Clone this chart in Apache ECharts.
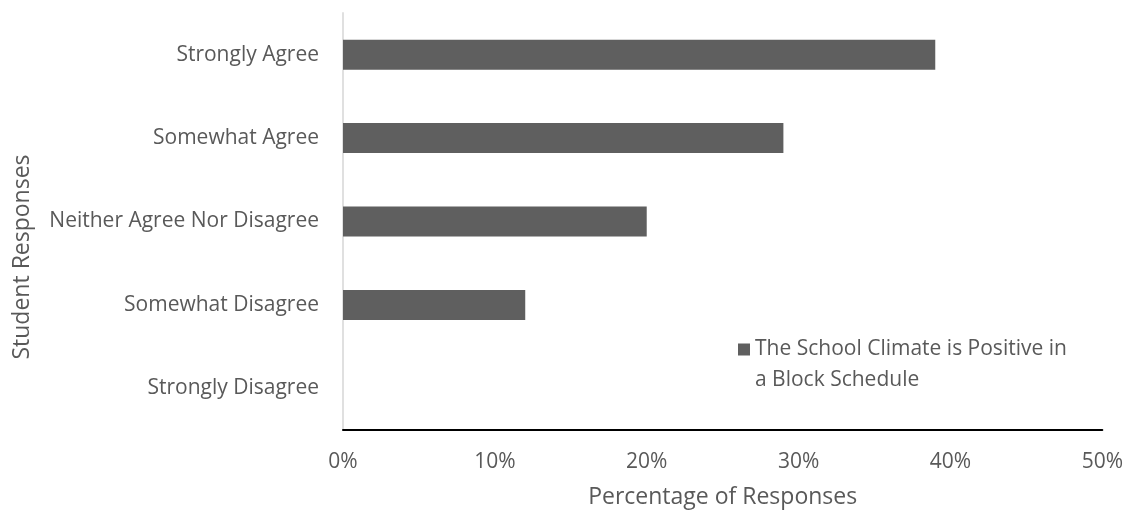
<!DOCTYPE html>
<html>
<head>
<meta charset="utf-8">
<script src="https://cdn.jsdelivr.net/npm/echarts@6/dist/echarts.min.js"></script>
<style>
  html, body { margin: 0; padding: 0; background: #fff; width: 100%; height: 100%; overflow: hidden; }
  #chart { width: 100vw; height: 100vh; }
</style>
</head>
<body>
<div id="chart"></div>
<script>
// data
const categories = ['Strongly Agree', 'Somewhat Agree', 'Neither Agree Nor Disagree', 'Somewhat Disagree', 'Strongly Disagree'];
const climateValues = [39, 29, 20, 12, 0];
const seriesName = 'The School Climate is Positive in\na Block Schedule';
const xTicks = [0, 10, 20, 30, 40, 50];

const textColor = '#595959';
const font = 'Open Sans';

const myChart = echarts.init(document.getElementById('chart'));
const option = {
  animation: false,
  textStyle: { fontFamily: font },
  grid: { left: 343, right: 23, top: 13, bottom: 77, containLabel: false },
  legend: {
    left: 738,
    top: 303,
    padding: 0,
    itemWidth: 12,
    itemHeight: 12,
    itemGap: 6,
    icon: 'rect',
    data: [seriesName],
    // empty first line so the square sits beside the first text line
    formatter: name => '\n' + name,
    textStyle: { color: textColor, fontSize: 21, fontFamily: font, lineHeight: 31 }
  },
  xAxis: {
    type: 'value',
    min: xTicks[0],
    max: xTicks[xTicks.length - 1],
    interval: 10,
    name: 'Percentage of Responses',
    nameLocation: 'middle',
    nameGap: 56,
    nameTextStyle: { color: textColor, fontSize: 23, fontFamily: font },
    axisLine: { show: true, lineStyle: { color: '#000', width: 2 } },
    axisTick: { show: false },
    splitLine: { show: false },
    axisLabel: { color: textColor, fontSize: 21, margin: 22, formatter: v => v + '%' }
  },
  yAxis: {
    type: 'category',
    inverse: true,
    data: categories,
    axisLine: { show: true, lineStyle: { color: '#e0e0e0', width: 2 } },
    axisTick: { show: false },
    axisLabel: { color: textColor, fontSize: 21, margin: 24 }
  },
  graphic: [{
    type: 'text',
    x: 22,
    y: 257,
    rotation: Math.PI / 2,
    style: {
      text: 'Student Responses',
      fill: textColor,
      fontSize: 23,
      fontFamily: font,
      align: 'center',
      verticalAlign: 'middle'
    }
  }],
  series: [{
    name: seriesName,
    type: 'bar',
    data: climateValues,
    barWidth: 30,
    itemStyle: { color: '#5f5f5f' }
  }]
};
myChart.setOption(option);
</script>
</body>
</html>
